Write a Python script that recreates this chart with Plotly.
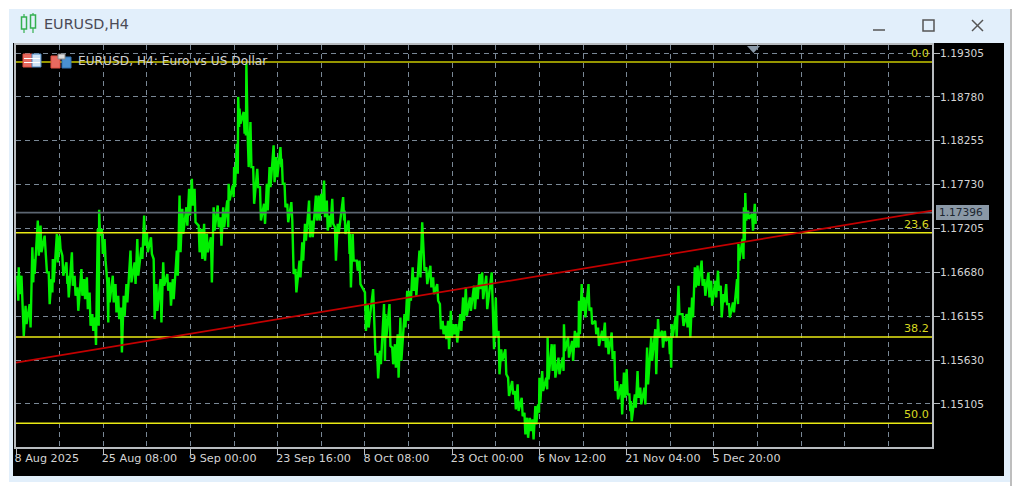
import plotly.graph_objects as go

W, H = 1024, 493
L, R, T, B = 16, 932, 45, 447

# Bars: (bar index, high, low)
bars = [1,2,4,5,7,10,12,13,16,18,21,22,24,26,27,30,32,34,37,38,41,43,45,48,50,52,54,56,58,60,61,63,65,67,68,71,73,75,77,79,81,84,87,89,92,94,96,99,101,103,106,108,111,113,115,118,
120,122,125,127,129,131,134,136,138,140,143,145,148,150,152,155,156,159,160,162,163,164,167,168,169,170,172,174,177,179,182,184,186,189,191,194,195,197,199,202,203,205,208,210,212,215,217,220,222,224,226,228,230,232,234,236,240,241,244,245,247,250,252,
256,258,262,263,265,267,270,271,274,276,278,280,282,285,287,289,291,293,296,298,299,301,304,306,309,311,313,315,317,319,321,323,326,328,330,333,336,338,340,342,345,349,350,352,354,356,359,361,364,366,368,371,373,375,377,379,381,383,384,386,
389,390,393,395,398,401,402,405,408,410,412,413,415,417,420,422,425,427,430,432,434,437,439,441,444,446,448,450,451,454,456,458,461,463,466,469,471,474,476,479,480,481,484,486,489,492,494,496,498,500,503,505,508,510,513,515,517,519,521,523,526,529,530,533,534,535,537,540,542]

highs = [1.1664,1.1674,1.1664,1.1628,1.1628,1.1630,1.1698,1.1684,1.1730,1.1724,1.1712,1.1692,1.1668,1.1660,1.1684,1.1714,1.1712,1.1688,1.1680,1.1664,1.1692,1.1664,1.1650,1.1672,1.1660,1.1662,1.1644,1.1618,1.1614,1.1720,1.1743,1.1720,1.1708,1.1656,1.1662,1.1664,1.1654,1.1640,1.1626,1.1640,1.1654,1.1694,1.1680,1.1708,1.1698,1.1736,1.1716,1.1710,1.1684,1.1654,1.1660,1.1680,1.1666,1.1656,1.1660,1.1694,
1.1760,1.1744,1.1746,1.1768,1.1780,1.1768,1.1724,1.1720,1.1726,1.1714,1.1710,1.1746,1.1748,1.1734,1.1746,1.1754,1.1774,1.1772,1.1794,1.1822,1.1878,1.1864,1.1860,1.1860,1.1918,1.1830,1.1848,1.1794,1.1792,1.1770,1.1750,1.1774,1.1794,1.1820,1.1806,1.1818,1.1804,1.1774,1.1750,1.1752,1.1714,1.1672,1.1682,1.1704,1.1726,1.1754,1.1730,1.1760,1.1760,1.1762,1.1778,1.1754,1.1736,1.1756,1.1722,1.1726,1.1758,1.1742,1.1730,1.1714,1.1714,1.1682,1.1682,
1.1644,1.1630,1.1648,1.1614,1.1570,1.1574,1.1630,1.1618,1.1630,1.1578,1.1582,1.1594,1.1614,1.1618,1.1646,1.1646,1.1674,1.1662,1.1694,1.1728,1.1706,1.1674,1.1676,1.1662,1.1654,1.1630,1.1610,1.1604,1.1610,1.1622,1.1606,1.1606,1.1618,1.1638,1.1650,1.1638,1.1652,1.1652,1.1666,1.1668,1.1664,1.1668,1.1618,1.1638,1.1598,1.1576,1.1576,1.1542,1.1538,1.1526,1.1534,1.1518,1.1500,1.1494,1.1494,1.1492,1.1508,1.1510,1.1542,1.1550,
1.1542,1.1590,1.1582,1.1582,1.1566,1.1566,1.1606,1.1590,1.1586,1.1598,1.1596,1.1634,1.1654,1.1638,1.1654,1.1626,1.1610,1.1602,1.1598,1.1608,1.1590,1.1596,1.1574,1.1538,1.1534,1.1548,1.1552,1.1522,1.1514,1.1522,1.1550,1.1530,1.1530,1.1578,1.1590,1.1600,1.1612,1.1598,1.1598,1.1590,1.1586,1.1606,1.1616,1.1652,1.1618,1.1618,1.1626,1.1638,1.1674,1.1676,1.1682,1.1660,1.1668,1.1658,1.1658,1.1670,1.1652,1.1642,1.1654,1.1630,1.1632,1.1660,1.1702,1.1708,1.1746,1.1763,1.1742,1.1738,1.1750]

lows = [1.1634,1.1642,1.1640,1.1592,1.1606,1.1602,1.1656,1.1666,1.1688,1.1692,1.1690,1.1668,1.1630,1.1644,1.1656,1.1680,1.1696,1.1664,1.1654,1.1638,1.1652,1.1640,1.1622,1.1640,1.1636,1.1624,1.1604,1.1598,1.1581,1.1604,1.1712,1.1690,1.1682,1.1608,1.1632,1.1632,1.1620,1.1612,1.1572,1.1616,1.1632,1.1656,1.1654,1.1664,1.1684,1.1700,1.1692,1.1690,1.1612,1.1622,1.1608,1.1652,1.1646,1.1628,1.1636,1.1664,
1.1692,1.1714,1.1724,1.1736,1.1748,1.1728,1.1692,1.1684,1.1682,1.1692,1.1656,1.1718,1.1722,1.1700,1.1722,1.1722,1.1754,1.1758,1.1770,1.1786,1.1842,1.1846,1.1834,1.1832,1.1838,1.1794,1.1794,1.1750,1.1770,1.1730,1.1726,1.1742,1.1770,1.1776,1.1782,1.1794,1.1774,1.1746,1.1728,1.1730,1.1666,1.1644,1.1662,1.1682,1.1706,1.1710,1.1710,1.1730,1.1730,1.1738,1.1734,1.1718,1.1722,1.1726,1.1682,1.1714,1.1730,1.1714,1.1690,1.1650,1.1682,1.1670,1.1654,
1.1598,1.1602,1.1614,1.1570,1.1541,1.1558,1.1562,1.1590,1.1580,1.1558,1.1554,1.1542,1.1562,1.1602,1.1610,1.1634,1.1646,1.1640,1.1662,1.1698,1.1670,1.1654,1.1650,1.1642,1.1634,1.1600,1.1594,1.1588,1.1576,1.1590,1.1594,1.1584,1.1598,1.1610,1.1616,1.1622,1.1624,1.1636,1.1648,1.1636,1.1624,1.1618,1.1576,1.1592,1.1546,1.1562,1.1546,1.1520,1.1522,1.1504,1.1502,1.1496,1.1474,1.1470,1.1478,1.1468,1.1486,1.1500,1.1512,1.1526,
1.1528,1.1540,1.1550,1.1542,1.1546,1.1550,1.1574,1.1566,1.1562,1.1578,1.1578,1.1594,1.1622,1.1614,1.1622,1.1606,1.1594,1.1580,1.1586,1.1578,1.1570,1.1564,1.1526,1.1516,1.1498,1.1518,1.1522,1.1502,1.1490,1.1506,1.1518,1.1510,1.1510,1.1534,1.1562,1.1546,1.1590,1.1578,1.1586,1.1570,1.1554,1.1590,1.1590,1.1618,1.1604,1.1602,1.1590,1.1614,1.1650,1.1652,1.1652,1.1640,1.1638,1.1628,1.1638,1.1646,1.1614,1.1632,1.1630,1.1614,1.1620,1.1630,1.1682,1.1684,1.1706,1.1730,1.1732,1.1718,1.1726]

price_ticks = [1.19305, 1.18780, 1.18255, 1.17730, 1.17205, 1.16680, 1.16155, 1.15630, 1.15105]
date_bars = [0, 64, 128, 192, 256, 320, 384, 448, 512]
date_labels = ["8 Aug 2025", "25 Aug 08:00", "9 Sep 00:00", "23 Sep 16:00", "8 Oct 08:00",
               "23 Oct 00:00", "6 Nov 12:00", "21 Nov 04:00", "5 Dec 20:00"]
fib_labels = ["0.0", "23.6", "38.2", "50.0"]
fib_prices = [1.19197, 1.17155, 1.15907, 1.14874]
last_price = 1.17396
trend_bars = [0, 672]
trend_prices = [1.15599, 1.17418]
x_end = 672
y_range = [1.14590, 1.19401]

FONT = "DejaVu Sans"
GRID = "#7a8896"
AXIS = "#b8bcc0"
DASH = "5px,4px"

xs, ys = [], []
for b, h, l in zip(bars, highs, lows):
    xs += [b, b + 0.7]
    ys += [h, l]

fig = go.Figure()
fig.add_trace(go.Scatter(x=xs, y=ys, mode="lines", line=dict(color="#00f000", width=2.4), hoverinfo="skip"))
fig.add_trace(go.Scatter(x=[0, x_end], y=[last_price, last_price], mode="lines",
                         line=dict(color="#5c6672", width=1.8), hoverinfo="skip"))
for i, (lab, p) in enumerate(zip(fib_labels, fib_prices)):
    fig.add_trace(go.Scatter(x=[0, x_end], y=[p, p], mode="lines",
                             line=dict(color="#c8c800" if i == 0 else "#eaea14", width=1.5), hoverinfo="skip"))
fig.add_trace(go.Scatter(x=trend_bars, y=trend_prices, mode="lines",
                         line=dict(color="#c40000", width=1.7), hoverinfo="skip"))


def px(x0, y0, x1, y1, **kw):
    return dict(type="rect", xref="paper", yref="paper", layer="below",
                x0=(x0 - L) / (R - L), x1=(x1 - L) / (R - L),
                y0=(B - y0) / (B - T), y1=(B - y1) / (B - T), **kw)


def seg(x0, y0, x1, y1, color, width=1.5):
    return dict(type="line", xref="paper", yref="paper",
                x0=(x0 - L) / (R - L), x1=(x1 - L) / (R - L),
                y0=(B - y0) / (B - T), y1=(B - y1) / (B - T),
                line=dict(color=color, width=width))


def box(x0, y0, x1, y1, fill, line=None, layer="above", lw=1):
    d = px(x0, y0, x1, y1, fillcolor=fill, line=dict(width=lw if line else 0, color=line or fill))
    d["layer"] = layer
    return d


shapes = [
    box(9, 9, 1010, 482, "#e2effb", layer="below"),
    box(13, 43, 1004, 476, "#000000", layer="below"),
    seg(1011, 9, 1011, 486, "#a8a8a8", 1.5),
    # window buttons
    seg(873, 30, 885, 30, "#555555", 1.5),
    box(923, 20, 934, 31, "rgba(0,0,0,0)", "#555555", lw=1.5),
    seg(972, 20, 983, 31, "#555555", 1.5),
    seg(983, 20, 972, 31, "#555555", 1.5),
    # window icon: two hollow candles
    seg(24, 14, 24, 33, "#34b050", 1.2),
    box(21.5, 17, 26.5, 29, "#e2effb", "#34b050", lw=1.5),
    seg(33, 13, 33, 33, "#34b050", 1.2),
    box(30.5, 15, 35.5, 28, "#e2effb", "#34b050", lw=1.5),
    # chart header icons
    box(23, 54, 32, 67, "#e86a60", "#e05040"),
    box(32, 54, 41, 67, "#cfe2f5", "#4a86c0"),
    seg(24, 58.5, 40, 58.5, "#ffffff", 1),
    seg(24, 62.5, 40, 62.5, "#ffffff", 1),
    box(51, 56, 60, 68, "#e86a60", "#e05040"),
    box(62, 57, 71, 68, "#4a90d0", "#3070b0"),
    box(58, 54, 65, 59, "#dddddd", "#888888"),
    # last price tag behind its text
    box(936, 205, 989, 220, "#8a98a6"),
    # current time marker
    dict(type="path", xref="paper", yref="paper", layer="above",
         path=f"M {(747-L)/(R-L)} {(B-46)/(B-T)} L {(760-L)/(R-L)} {(B-46)/(B-T)} L {(753.5-L)/(R-L)} {(B-53)/(B-T)} Z",
         fillcolor="#8a99a8", line=dict(width=0)),
]


def note(x, y, text, color, size=10.4, anchor="left", **kw):
    return dict(xref="paper", yref="paper", x=(x - L) / (R - L), y=(B - y) / (B - T),
                text=text, showarrow=False, xanchor=anchor, yanchor="middle",
                font=dict(family=FONT, size=size, color=color), **kw)


annotations = [
    note(41.5, 24.5, "EURUSD,H4", "#4a4a55", size=14.4),
    note(76, 61, "EURUSD, H4: Euro vs US Dollar", "#d0d0d0", size=12.2),
    note(961.5, 212.5, f"{last_price:.5f}", "#1c2630", size=10.6, anchor="center"),
]
for lab, p in zip(fib_labels, fib_prices):
    y = B - (p - y_range[0]) / (y_range[1] - y_range[0]) * (B - T)
    annotations.append(note(931, y - 8.5, lab, "#d8d820", size=11.2, anchor="right"))

fig.update_layout(
    width=W, height=H, showlegend=False,
    margin=dict(l=L, r=W - R, t=T, b=H - B, pad=0),
    paper_bgcolor="#ffffff", plot_bgcolor="#000000",
    shapes=shapes, annotations=annotations,
    xaxis=dict(range=[0, x_end], tickmode="array", tickvals=date_bars, ticktext=date_labels,
               ticks="outside", ticklen=6, tickcolor=AXIS, tickwidth=1,
               ticklabelposition="outside right", ticklabelshift=-3,
               showgrid=True, gridcolor=GRID, griddash=DASH, gridwidth=1.2,
               minor=dict(tick0=0, dtick=32, showgrid=True, gridcolor=GRID, griddash=DASH, gridwidth=1.2),
               showline=True, linecolor=AXIS, linewidth=2, mirror=True, zeroline=False,
               tickfont=dict(family=FONT, size=11.2, color="#d4d4d4")),
    yaxis=dict(range=y_range, side="right", tickmode="array", tickvals=price_ticks,
               ticktext=[f"{v:.5f}" for v in price_ticks],
               ticks="outside", ticklen=6, tickcolor=AXIS, tickwidth=1, ticklabelstandoff=-2,
               showgrid=True, gridcolor=GRID, griddash=DASH, gridwidth=1.2,
               showline=True, linecolor=AXIS, linewidth=2, mirror=True, zeroline=False,
               tickfont=dict(family=FONT, size=10.6, color="#d4d4d4")),
)

fig.write_html("out.html", config=dict(displayModeBar=False),
               post_script="document.body.style.margin='0';document.body.style.overflow='hidden';")
